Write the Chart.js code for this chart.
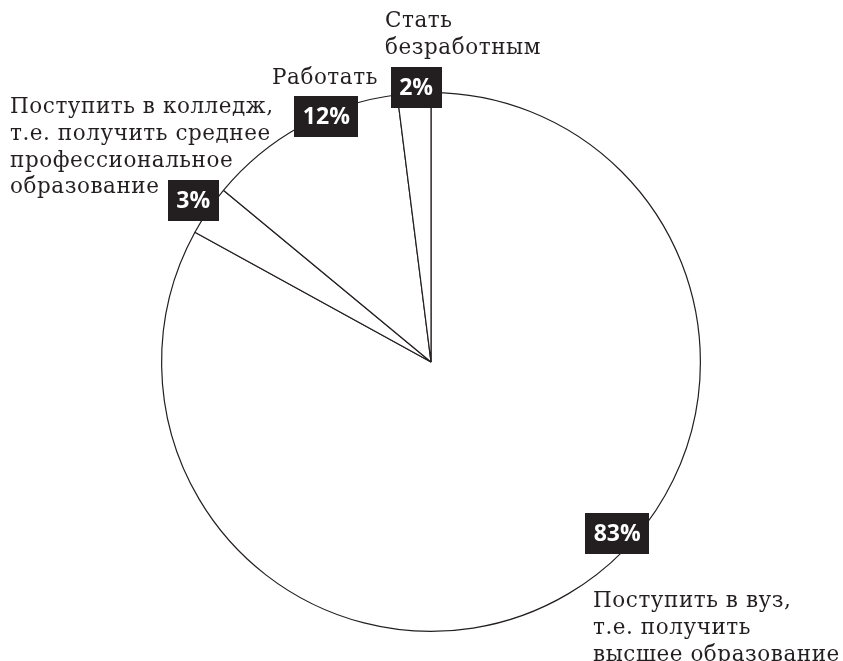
<!DOCTYPE html>
<html>
<head>
<meta charset="utf-8">
<script src="https://cdn.jsdelivr.net/npm/chart.js@4"></script>
<style>
  html, body { margin: 0; padding: 0; background: #fff; }
  #wrap { width: 843px; height: 661px; }
</style>
</head>
<body>
<div id="wrap"><canvas id="pie" width="843" height="661"></canvas></div>
<script>
// clockwise from 12 o'clock
const categories = [
  "Поступить в вуз,\nт.е. получить\nвысшее образование",
  "Поступить в колледж,\nт.е. получить среднее\nпрофессиональное\nобразование",
  "Работать",
  "Стать\nбезработным"
];
const shares = [83, 3, 12, 2];

const INK = "#231f20";
const SERIF = "'DejaVu Serif', serif";

// where the % badge sits on each slice: fraction along the arc, radius factor
const badgeSpots = [
  { f: 0.444, k: 0.94 },
  { f: 0.5, k: 1.067 },
  { f: 0.632, k: 0.99 },
  { f: 0.57, k: 1.02 }
];
// category text: left x, first baseline y
const textSpots = [
  { x: 593, y: 607 },
  { x: 10, y: 113 },
  { x: 272, y: 84 },
  { x: 385, y: 27 }
];
const LINE_H = 26.8;

const badges = {
  id: "badges",
  afterDatasetsDraw(chart) {
    const ctx = chart.ctx;
    const arcs = chart.getDatasetMeta(0).data;
    ctx.save();
    arcs.forEach((arc, i) => {
      const { x, y, startAngle, endAngle, outerRadius } = arc.getProps(
        ["x", "y", "startAngle", "endAngle", "outerRadius"], true);
      const spot = badgeSpots[i];
      const a = startAngle + spot.f * (endAngle - startAngle);
      const cx = x + Math.cos(a) * outerRadius * spot.k;
      const cy = y + Math.sin(a) * outerRadius * spot.k;
      const txt = shares[i] + "%";
      ctx.letterSpacing = "0px";
      ctx.font = "bold 23px 'Open Sans', sans-serif";
      const w = ctx.measureText(txt).width + 17;
      const h = 41;
      ctx.fillStyle = INK;
      ctx.fillRect(Math.round(cx - w / 2), Math.round(cy - h / 2), Math.round(w), h);
      ctx.fillStyle = "#fff";
      ctx.textAlign = "center";
      ctx.textBaseline = "middle";
      ctx.fillText(txt, cx, cy + 1);

      // category caption
      ctx.font = "21.5px " + SERIF;
      ctx.letterSpacing = "0.55px";
      ctx.fillStyle = INK;
      ctx.textAlign = "left";
      ctx.textBaseline = "alphabetic";
      const t = textSpots[i];
      categories[i].split("\n").forEach((line, j) => {
        ctx.fillText(line, t.x, t.y + j * LINE_H);
      });
    });
    ctx.restore();
  }
};

new Chart(document.getElementById("pie"), {
  type: "pie",
  data: {
    labels: categories,
    datasets: [{
      data: shares,
      backgroundColor: "#fff",
      borderColor: INK,
      borderWidth: 1.2,
      borderAlign: "center"
    }]
  },
  options: {
    responsive: false,
    animation: false,
    layout: { padding: { top: 92, bottom: 29, left: 100, right: 81 } },
    plugins: {
      legend: { display: false },
      tooltip: { enabled: false }
    }
  },
  plugins: [badges]
});
</script>
</body>
</html>
